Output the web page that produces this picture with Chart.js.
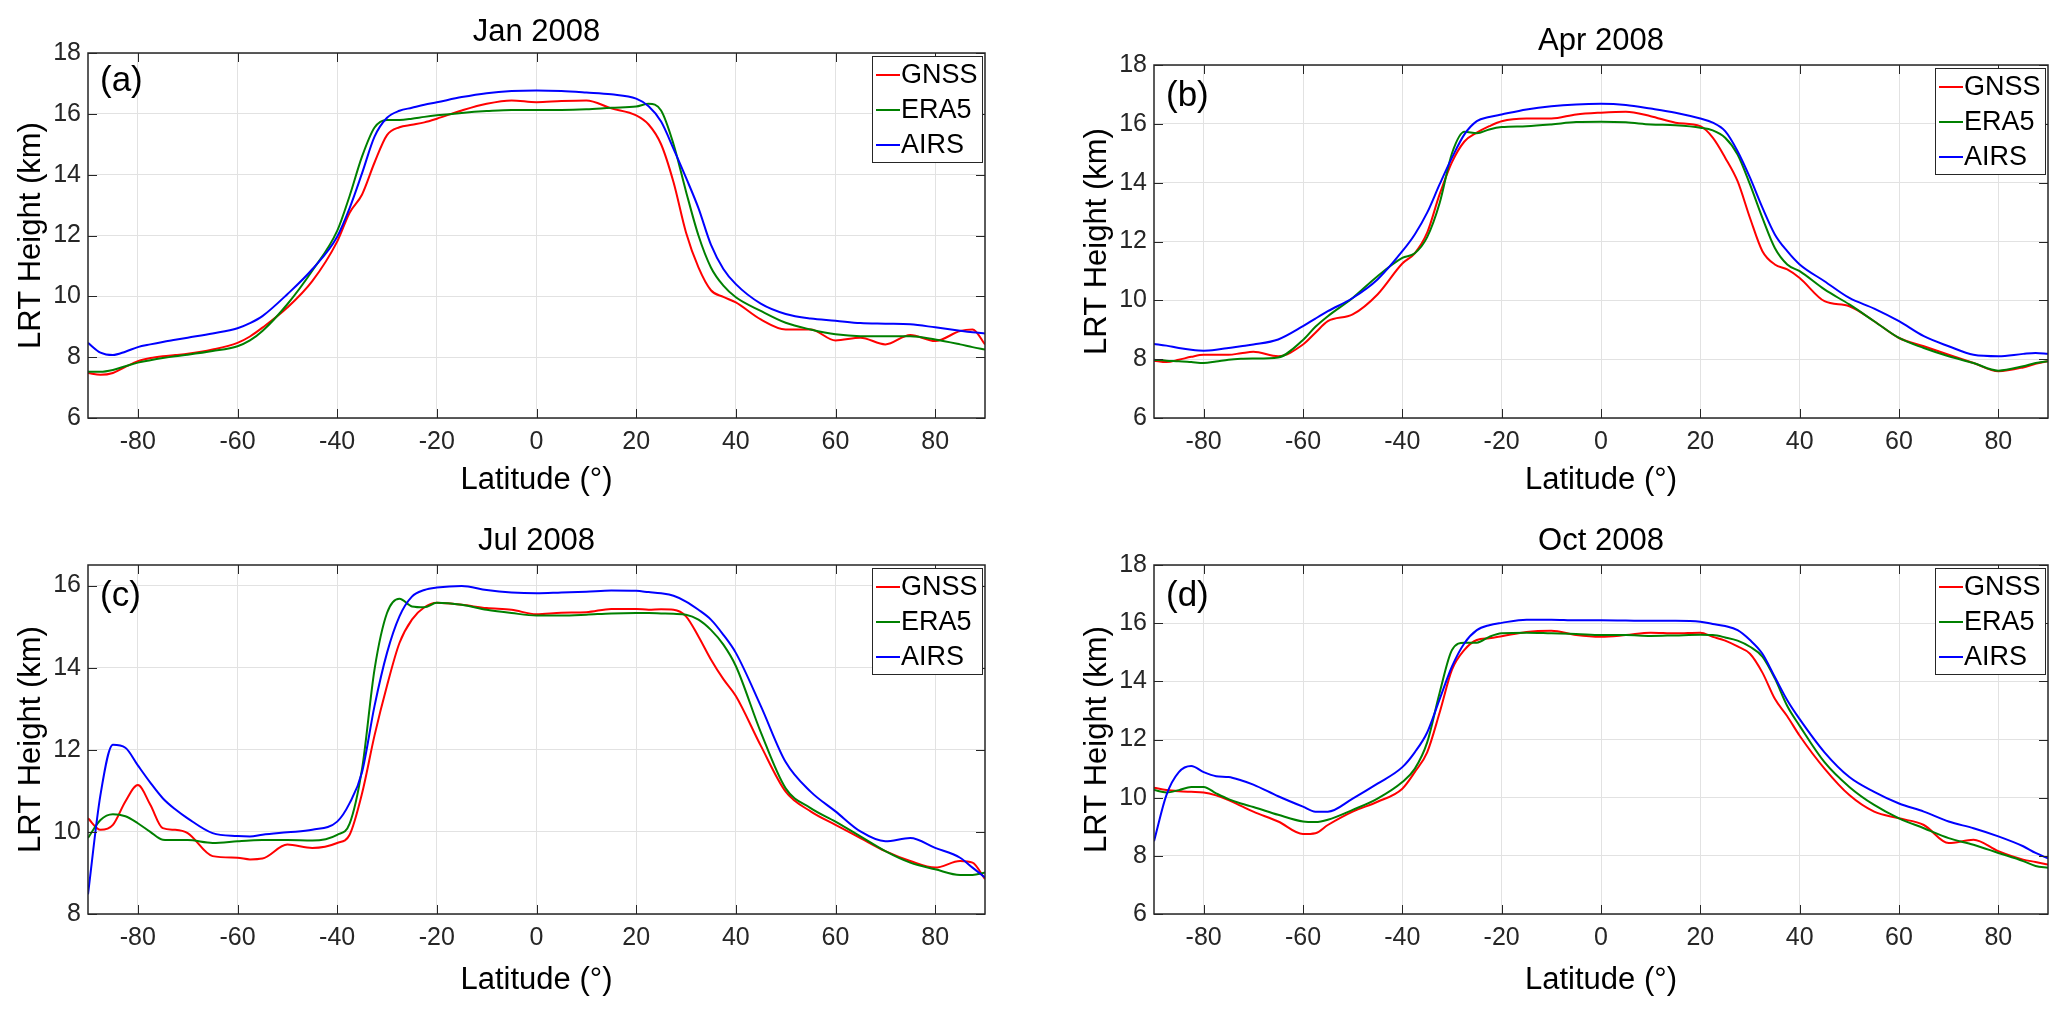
<!DOCTYPE html>
<html>
<head>
<meta charset="utf-8">
<script src="https://cdn.jsdelivr.net/npm/chart.js@4.4.1/dist/chart.umd.min.js"></script>
<style>
html,body{margin:0;padding:0;background:#ffffff;}
body{width:2067px;height:1014px;position:relative;overflow:hidden;}
canvas{position:absolute;}
</style>
</head>
<body>
<canvas id="cJan" style="left:0px;top:0px" width="1033" height="507"></canvas>
<canvas id="cApr" style="left:1033px;top:0px" width="1034" height="507"></canvas>
<canvas id="cJul" style="left:0px;top:507px" width="1033" height="507"></canvas>
<canvas id="cOct" style="left:1033px;top:507px" width="1034" height="507"></canvas>
<script>
// ---------------- data ----------------
const latitude = [-90,-87.5,-85,-82.5,-80,-77.5,-75,-72.5,-70,-65,-60,-57.5,-55,-50,-45,-40,-37.5,-35,-32.5,-30,-27.5,-25,-22.5,-20,-15,-10,-5,0,5,10,15,20,22.5,25,27.5,30,32.5,35,37.5,40,45,50,55,60,65,70,75,80,85,87.5,90];
const xTickValues = [-80,-60,-40,-20,0,20,40,60,80];
const yTicksStd = [6,8,10,12,14,16,18];
const yTicksJul = [8,10,12,14,16];
const seriesNames = ['GNSS','ERA5','AIRS'];
const seriesColors = ['#ff0000','#008000','#0000ff'];
const panelTitles = ['Jan 2008','Apr 2008','Jul 2008','Oct 2008'];
const panelLetters = ['(a)','(b)','(c)','(d)'];

const janGNSS = [7.48,7.42,7.48,7.68,7.87,7.97,8.03,8.07,8.11,8.25,8.47,8.68,8.97,9.63,10.5,11.8,12.75,13.35,14.4,15.3,15.56,15.64,15.72,15.84,16.11,16.33,16.44,16.38,16.42,16.44,16.18,15.95,15.65,15.0,13.75,12.1,10.95,10.2,9.98,9.8,9.24,8.91,8.91,8.55,8.64,8.42,8.73,8.53,8.86,8.91,8.42];
const janERA5 = [7.52,7.52,7.58,7.7,7.82,7.9,7.97,8.03,8.08,8.2,8.36,8.55,8.86,9.74,10.84,12.15,13.3,14.6,15.55,15.8,15.8,15.84,15.9,15.95,16.03,16.09,16.13,16.13,16.13,16.15,16.2,16.24,16.33,16.11,15.0,13.45,12.0,10.95,10.35,9.97,9.52,9.13,8.91,8.75,8.69,8.69,8.69,8.58,8.42,8.33,8.25];
const janAIRS = [8.47,8.15,8.07,8.18,8.33,8.42,8.5,8.57,8.64,8.78,8.95,9.12,9.35,10.07,10.89,11.96,12.9,14.05,15.25,15.87,16.1,16.2,16.3,16.38,16.55,16.68,16.75,16.77,16.75,16.7,16.64,16.5,16.25,15.75,14.85,13.9,12.9,11.7,10.9,10.4,9.76,9.42,9.27,9.2,9.12,9.1,9.08,8.98,8.87,8.82,8.78];

const aprGNSS = [7.95,7.9,7.98,8.08,8.15,8.15,8.15,8.2,8.25,8.1,8.5,8.9,9.29,9.52,10.2,11.25,11.6,12.3,13.6,14.7,15.4,15.7,15.92,16.09,16.18,16.18,16.32,16.38,16.41,16.26,16.04,15.92,15.53,14.85,14.05,12.8,11.67,11.22,11.05,10.76,9.97,9.8,9.29,8.72,8.44,8.15,7.87,7.59,7.72,7.84,7.93];
const aprERA5 = [7.98,7.95,7.93,7.9,7.87,7.92,7.98,8.01,8.02,8.06,8.65,9.1,9.46,10.08,10.82,11.44,11.6,12.15,13.3,15.0,15.73,15.68,15.81,15.89,15.92,15.98,16.06,16.07,16.05,15.98,15.95,15.87,15.78,15.53,14.96,13.94,12.8,11.78,11.22,10.99,10.37,9.86,9.29,8.72,8.38,8.1,7.87,7.61,7.76,7.87,7.93];
const aprAIRS = [8.52,8.46,8.38,8.32,8.29,8.32,8.38,8.44,8.5,8.67,9.12,9.38,9.63,10.08,10.71,11.67,12.24,12.98,13.94,14.85,15.64,16.09,16.23,16.32,16.49,16.6,16.66,16.68,16.64,16.52,16.38,16.18,16.04,15.75,15.07,14.17,13.15,12.24,11.67,11.22,10.65,10.08,9.72,9.29,8.78,8.44,8.15,8.1,8.18,8.21,8.18];

const julGNSS = [10.33,10.05,10.17,10.74,11.14,10.66,10.09,10.05,9.97,9.41,9.37,9.33,9.35,9.69,9.61,9.73,9.93,10.94,12.35,13.56,14.6,15.17,15.47,15.58,15.53,15.45,15.41,15.3,15.34,15.35,15.43,15.43,15.41,15.42,15.41,15.25,14.76,14.2,13.72,13.31,12.1,10.98,10.5,10.17,9.85,9.53,9.29,9.13,9.29,9.25,8.85];
const julERA5 = [9.85,10.29,10.43,10.38,10.21,10.0,9.81,9.8,9.8,9.73,9.77,9.79,9.8,9.8,9.79,9.93,10.2,11.54,13.96,15.33,15.68,15.49,15.47,15.58,15.53,15.41,15.33,15.27,15.27,15.29,15.32,15.33,15.33,15.32,15.31,15.29,15.17,14.92,14.56,14.04,12.43,11.06,10.58,10.25,9.89,9.53,9.25,9.09,8.95,8.95,9.01];
const julAIRS = [8.48,10.9,12.12,12.05,11.62,11.2,10.82,10.55,10.33,9.97,9.9,9.89,9.93,9.99,10.05,10.25,10.7,11.46,13.07,14.36,15.25,15.73,15.89,15.95,15.99,15.89,15.83,15.81,15.83,15.85,15.88,15.87,15.84,15.81,15.75,15.61,15.41,15.17,14.8,14.36,13.07,11.7,10.98,10.5,10.01,9.77,9.85,9.61,9.37,9.13,8.89];

const octGNSS = [10.34,10.26,10.22,10.2,10.18,10.08,9.92,9.72,9.52,9.18,8.75,8.78,9.06,9.52,9.86,10.31,10.88,11.56,12.92,14.4,15.08,15.42,15.48,15.55,15.7,15.74,15.59,15.53,15.59,15.67,15.65,15.67,15.53,15.4,15.2,14.95,14.3,13.4,12.8,12.13,11.0,10.09,9.52,9.29,9.06,8.44,8.55,8.16,7.87,7.79,7.7];
const octERA5 = [10.26,10.18,10.26,10.37,10.37,10.15,9.95,9.8,9.68,9.41,9.18,9.16,9.24,9.58,9.97,10.54,10.99,11.9,13.6,15.08,15.33,15.33,15.53,15.65,15.67,15.65,15.63,15.59,15.59,15.56,15.58,15.6,15.59,15.51,15.4,15.19,14.85,14.1,13.15,12.47,11.22,10.37,9.75,9.29,8.95,8.61,8.38,8.1,7.82,7.65,7.59];
const octAIRS = [8.5,10.09,10.88,11.09,10.88,10.74,10.71,10.6,10.45,10.05,9.69,9.52,9.52,9.97,10.48,11.05,11.56,12.24,13.38,14.51,15.31,15.76,15.93,16.01,16.12,16.12,16.1,16.1,16.09,16.08,16.08,16.05,15.97,15.9,15.76,15.42,14.95,14.15,13.35,12.7,11.56,10.71,10.2,9.8,9.52,9.18,8.95,8.67,8.33,8.1,7.91];

// ---------------- drawing ----------------
const FAM = '"Liberation Sans", Arial, Helvetica, sans-serif';

const matlabFrame = {
  id: 'matlabFrame',
  afterDatasetsDraw(chart, args, o) {
    const ctx = chart.ctx, a = chart.chartArea;
    const xs = chart.scales.x, ys = chart.scales.y;
    ctx.save();
    ctx.strokeStyle = '#262626';
    ctx.lineWidth = 1;
    ctx.beginPath();
    xs.ticks.forEach(t => {
      const p = Math.round(xs.getPixelForValue(t.value)) + 0.5;
      ctx.moveTo(p, a.bottom); ctx.lineTo(p, a.bottom - 9);
      ctx.moveTo(p, a.top); ctx.lineTo(p, a.top + 9);
    });
    ys.ticks.forEach(t => {
      const p = Math.round(ys.getPixelForValue(t.value)) + 0.5;
      ctx.moveTo(a.left, p); ctx.lineTo(a.left + 9, p);
      ctx.moveTo(a.right, p); ctx.lineTo(a.right - 9, p);
    });
    ctx.stroke();
    ctx.lineWidth = 1.5;
    ctx.strokeRect(a.left, a.top, a.right - a.left, a.bottom - a.top);
    ctx.fillStyle = '#000000';
    ctx.font = '35px ' + FAM;
    ctx.textAlign = 'left';
    ctx.textBaseline = 'middle';
    ctx.fillText(o.letter, a.left + 12, a.top + o.letterDy);
    const bw = 110, bh = 106;
    const bx = Math.round(a.right - 3 - bw), by = Math.round(a.top + 3);
    ctx.fillStyle = '#ffffff';
    ctx.fillRect(bx, by, bw, bh);
    ctx.strokeStyle = '#262626';
    ctx.lineWidth = 1;
    ctx.strokeRect(bx + 0.5, by + 0.5, bw, bh);
    ctx.font = '27px ' + FAM;
    chart.data.datasets.forEach((ds, i) => {
      const yy = by + 19 + i * 35;
      ctx.strokeStyle = ds.borderColor;
      ctx.lineWidth = 2;
      ctx.beginPath();
      ctx.moveTo(bx + 4, yy); ctx.lineTo(bx + 28, yy);
      ctx.stroke();
      ctx.fillStyle = '#000000';
      ctx.fillText(ds.label, bx + 29, yy + 1);
    });
    ctx.restore();
  }
};

function makePanel(id, title, letter, series, yMin, yMax, yTicks, g) {
  const datasets = series.map((vals, i) => ({
    label: seriesNames[i],
    data: latitude.map((lat, k) => ({x: lat, y: vals[k]})),
    borderColor: seriesColors[i],
    backgroundColor: seriesColors[i],
    borderWidth: 2,
    pointRadius: 0,
    fill: false,
    cubicInterpolationMode: 'monotone',
    order: 3 - i
  }));
  return new Chart(document.getElementById(id), {
    type: 'line',
    data: {datasets},
    plugins: [matlabFrame],
    options: {
      responsive: false,
      animation: false,
      devicePixelRatio: 1,
      layout: {padding: {left: 0, top: 0, right: g.pr, bottom: 0}},
      plugins: {
        legend: {display: false},
        tooltip: {enabled: false},
        title: {
          display: true, text: title, fullSize: false, color: '#000000',
          font: {family: FAM, size: 31, weight: 'normal', lineHeight: 1},
          padding: {top: g.tt, bottom: g.tb}
        },
        matlabFrame: {letter: letter, letterDy: g.ldy}
      },
      scales: {
        x: {
          type: 'linear', min: -90, max: 90,
          afterBuildTicks: s => { s.ticks = xTickValues.map(v => ({value: v})); },
          afterFit: s => { s.height = g.xh; },
          ticks: {font: {family: FAM, size: 25}, color: '#262626', padding: 9, maxRotation: 0, autoSkip: false},
          grid: {color: '#e2e2e2', lineWidth: 1, drawTicks: false},
          border: {display: false},
          title: {display: true, text: 'Latitude (°)', color: '#000000', font: {family: FAM, size: 31}, padding: {top: 0, bottom: g.xtp}}
        },
        y: {
          type: 'linear', min: yMin, max: yMax,
          afterBuildTicks: s => { s.ticks = yTicks.map(v => ({value: v})); },
          afterFit: s => { s.width = g.yw; },
          ticks: {font: {family: FAM, size: 25}, color: '#262626', padding: 7, autoSkip: false},
          grid: {color: '#e2e2e2', lineWidth: 1, drawTicks: false},
          border: {display: false},
          title: {display: true, text: 'LRT Height (km)', color: '#000000', font: {family: FAM, size: 31}, padding: {top: g.ytp, bottom: 0}}
        }
      }
    }
  });
}

makePanel('cJan', panelTitles[0], panelLetters[0], [janGNSS, janERA5, janAIRS], 6, 18, yTicksStd,
  {pr: 48, yw: 88, xh: 89, tt: 17, tb: 5, ytp: 13, xtp: 8, ldy: 28});
makePanel('cApr', panelTitles[1], panelLetters[1], [aprGNSS, aprERA5, aprAIRS], 6, 18, yTicksStd,
  {pr: 19, yw: 121, xh: 89, tt: 26, tb: 8, ytp: 46, xtp: 8, ldy: 31});
makePanel('cJul', panelTitles[2], panelLetters[2], [julGNSS, julERA5, julAIRS], 8, 16.5, yTicksJul,
  {pr: 48, yw: 88, xh: 100, tt: 19, tb: 8, ytp: 13, xtp: 15, ldy: 31});
makePanel('cOct', panelTitles[3], panelLetters[3], [octGNSS, octERA5, octAIRS], 6, 18, yTicksStd,
  {pr: 19, yw: 121, xh: 100, tt: 19, tb: 8, ytp: 46, xtp: 15, ldy: 31});
</script>
</body>
</html>
